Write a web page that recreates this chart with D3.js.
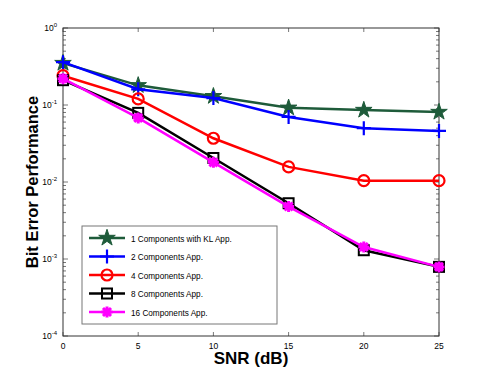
<!DOCTYPE html>
<html>
<head>
<meta charset="utf-8">
<script src="https://cdn.jsdelivr.net/npm/d3@7"></script>
<style>
  body { margin: 0; background: #fff; }
  text { font-family: "Liberation Sans", Arial, sans-serif; }
</style>
</head>
<body>
<div id="chart"></div>
<script>
// données
const snr = [0, 5, 10, 15, 20, 25];
const ber1KL = [0.35, 0.18, 0.13, 0.092, 0.086, 0.081];
const ber2 = [0.36, 0.16, 0.123, 0.07, 0.05, 0.046];
const ber4 = [0.24, 0.12, 0.037, 0.0157, 0.0104, 0.0104];
const ber8 = [0.21, 0.079, 0.0205, 0.0053, 0.0013, 0.00079];
const ber16 = [0.22, 0.068, 0.018, 0.0048, 0.00143, 0.00079];
const labels = ["1 Components with KL App.", "2 Components App.", "4 Components App.", "8 Components App.", "16 Components App."];
const xTicks = [0, 5, 10, 15, 20, 25];
const yExps = [0, -1, -2, -3, -4];

const series = [
  { name: labels[0], values: ber1KL, color: "#1e5b3a", marker: "star" },
  { name: labels[1], values: ber2, color: "#0000ff", marker: "plus" },
  { name: labels[2], values: ber4, color: "#ff0000", marker: "circle" },
  { name: labels[3], values: ber8, color: "#000000", marker: "square" },
  { name: labels[4], values: ber16, color: "#ff00ff", marker: "asterisk" }
];

const width = 485, height = 379;
const margin = { left: 63, top: 28, right: 46, bottom: 43 };
const iw = width - margin.left - margin.right;
const ih = height - margin.top - margin.bottom;

const svg = d3.select("#chart").append("svg")
  .attr("width", width)
  .attr("height", height);

const x = d3.scaleLinear().domain([0, 25]).range([0, iw]);
const y = d3.scaleLog().domain([1e-4, 1]).range([ih, 0]);

const g = svg.append("g").attr("transform", `translate(${margin.left},${margin.top})`);

// ticks (style matlab, vers l'intérieur)
const axisColor = "#555";
const minor = [];
for (let e = -4; e < 0; e++) {
  for (let k = 2; k <= 9; k++) minor.push(k * Math.pow(10, e));
}
g.selectAll(".minorL").data(minor).join("line")
  .attr("x1", 0).attr("x2", 3)
  .attr("y1", d => y(d)).attr("y2", d => y(d))
  .attr("stroke", axisColor).attr("stroke-width", 0.8);
g.selectAll(".minorR").data(minor).join("line")
  .attr("x1", iw).attr("x2", iw - 3)
  .attr("y1", d => y(d)).attr("y2", d => y(d))
  .attr("stroke", axisColor).attr("stroke-width", 0.8);
g.selectAll(".majorL").data(yExps).join("line")
  .attr("x1", 0).attr("x2", 5)
  .attr("y1", d => y(Math.pow(10, d))).attr("y2", d => y(Math.pow(10, d)))
  .attr("stroke", axisColor).attr("stroke-width", 0.8);
g.selectAll(".majorR").data(yExps).join("line")
  .attr("x1", iw).attr("x2", iw - 5)
  .attr("y1", d => y(Math.pow(10, d))).attr("y2", d => y(Math.pow(10, d)))
  .attr("stroke", axisColor).attr("stroke-width", 0.8);
g.selectAll(".xtB").data(xTicks).join("line")
  .attr("x1", d => x(d)).attr("x2", d => x(d))
  .attr("y1", ih).attr("y2", ih - 4)
  .attr("stroke", axisColor).attr("stroke-width", 0.8);
g.selectAll(".xtT").data(xTicks).join("line")
  .attr("x1", d => x(d)).attr("x2", d => x(d))
  .attr("y1", 0).attr("y2", 4)
  .attr("stroke", axisColor).attr("stroke-width", 0.8);

// cadre
g.append("rect")
  .attr("width", iw).attr("height", ih)
  .attr("fill", "none").attr("stroke", "#333").attr("stroke-width", 1);

// labels des ticks
g.selectAll(".xl").data(xTicks).join("text")
  .attr("x", d => x(d)).attr("y", ih + 13)
  .attr("text-anchor", "middle")
  .attr("font-size", 8.5)
  .text(d => d);

const yl = g.selectAll(".yl").data(yExps).join("text")
  .attr("x", -6).attr("y", d => y(Math.pow(10, d)) + 3)
  .attr("text-anchor", "end")
  .attr("font-size", 8.5);
yl.append("tspan").text("10");
yl.append("tspan").attr("dy", -4).attr("font-size", 6).text(d => d);

// titres des axes
svg.append("text")
  .attr("x", margin.left + iw / 2).attr("y", 364)
  .attr("text-anchor", "middle")
  .attr("font-size", 17).attr("font-weight", "bold")
  .text("SNR (dB)");
svg.append("text")
  .attr("transform", `translate(38,${margin.top + ih / 2}) rotate(-90)`)
  .attr("text-anchor", "middle")
  .attr("font-size", 16.5).attr("font-weight", "bold")
  .text("Bit Error Performance");

// marqueurs
function drawMarker(sel, type, color) {
  if (type === "star") {
    sel.append("path")
      .attr("d", d3.symbol(d3.symbolStar, 85)())
      .attr("fill", color).attr("stroke", color).attr("stroke-width", 1);
  } else if (type === "plus") {
    sel.append("path").attr("d", "M-7,0H7M0,-7V7")
      .attr("stroke", color).attr("stroke-width", 2.2).attr("fill", "none");
  } else if (type === "circle") {
    sel.append("circle").attr("r", 5.5)
      .attr("fill", "none").attr("stroke", color).attr("stroke-width", 2.2);
  } else if (type === "square") {
    sel.append("rect").attr("x", -5).attr("y", -5).attr("width", 10).attr("height", 10)
      .attr("fill", "none").attr("stroke", color).attr("stroke-width", 2);
  } else if (type === "asterisk") {
    sel.append("path").attr("d", "M-5.5,0H5.5M0,-5.5V5.5M-4,-4L4,4M-4,4L4,-4")
      .attr("stroke", color).attr("stroke-width", 3).attr("fill", "none");
    sel.append("circle").attr("r", 3).attr("fill", color);
  }
}

const line = d3.line()
  .x((d, i) => x(snr[i]))
  .y(d => y(d));

series.forEach(s => {
  g.append("path")
    .attr("d", line(s.values))
    .attr("fill", "none")
    .attr("stroke", s.color)
    .attr("stroke-width", 2.5);
  g.selectAll(null).data(s.values).join("g")
    .attr("transform", (d, i) => `translate(${x(snr[i])},${y(d)})`)
    .each(function () { drawMarker(d3.select(this), s.marker, s.color); });
});

// légende
const lg = svg.append("g").attr("transform", "translate(82,226)");
lg.append("rect")
  .attr("width", 195).attr("height", 98)
  .attr("fill", "#fff").attr("stroke", "#777").attr("stroke-width", 1);
series.forEach((s, i) => {
  const row = lg.append("g").attr("transform", `translate(0,${12 + i * 18.5})`);
  row.append("line").attr("x1", 7).attr("x2", 43)
    .attr("stroke", s.color).attr("stroke-width", 2.5);
  const m = row.append("g").attr("transform", "translate(25,0)");
  drawMarker(m, s.marker, s.color);
  row.append("text").attr("x", 49).attr("y", 3.5)
    .attr("font-size", 8.2)
    .text(s.name);
});
</script>
</body>
</html>
